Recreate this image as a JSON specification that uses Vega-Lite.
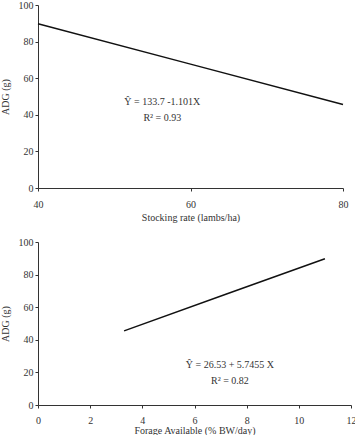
{
  "$schema": "https://vega.github.io/schema/vega-lite/v6.json",
  "padding": {"left": 0, "top": 0, "right": 0, "bottom": 0},
  "background": "white",
  "spacing": 15,
  "config": {
    "view": {"stroke": null},
    "font": "Liberation Serif",
    "axis": {
      "grid": false,
      "domainColor": "#333",
      "tickColor": "#333",
      "labelColor": "#333",
      "titleColor": "#333",
      "labelFont": "Liberation Serif",
      "titleFont": "Liberation Serif",
      "labelFontSize": 10,
      "titleFontSize": 10,
      "titleFontWeight": "normal",
      "tickSize": 3,
      "labelFlush": false
    },
    "text": {"font": "Liberation Serif", "fontSize": 10, "color": "#333"}
  },
  "datasets": {
    "top": [
      {"x": 40, "y": 89.7},
      {"x": 60, "y": 67.7},
      {"x": 80, "y": 45.6}
    ],
    "topText": [
      {"x": 56.3, "y": 47, "t": "Ŷ = 133.7 -1.101X"},
      {"x": 56.3, "y": 38.3, "t": "R² = 0.93"}
    ],
    "bottom": [
      {"x": 3.3, "y": 45.5},
      {"x": 7.2, "y": 67.9},
      {"x": 11, "y": 89.7}
    ],
    "bottomText": [
      {"x": 7.36, "y": 24.5, "t": "Ŷ = 26.53 + 5.7455 X"},
      {"x": 7.36, "y": 14.7, "t": "R² = 0.82"}
    ]
  },
  "vconcat": [
    {
      "width": 305,
      "height": 183,
      "encoding": {
        "x": {"field": "x", "type": "quantitative", "scale": {"domain": [40, 80], "nice": false},
              "axis": {"values": [40, 60, 80], "title": "Stocking rate (lambs/ha)", "labelPadding": 8, "titlePadding": 3, "labelOverlap": false}},
        "y": {"field": "y", "type": "quantitative", "scale": {"domain": [0, 100]},
              "axis": {"values": [0, 20, 40, 60, 80, 100], "title": "ADG (g)", "labelPadding": 2, "titlePadding": 8, "labelOverlap": false}}
      },
      "layer": [
        {
          "data": {"name": "top"},
          "mark": {"type": "line", "color": "#111", "strokeWidth": 1.5}
        },
        {
          "data": {"name": "topText"},
          "mark": {"type": "text", "align": "center", "baseline": "middle"},
          "encoding": {"text": {"field": "t"}}
        }
      ]
    },
    {
      "width": 313,
      "height": 163,
      "encoding": {
        "x": {"field": "x", "type": "quantitative", "scale": {"domain": [0, 12], "nice": false},
              "axis": {"values": [0, 2, 4, 6, 8, 10, 12], "title": "Forage Available (% BW/day)", "labelPadding": 7, "titlePadding": 0, "labelOverlap": false}},
        "y": {"field": "y", "type": "quantitative", "scale": {"domain": [0, 100]},
              "axis": {"values": [0, 20, 40, 60, 80, 100], "title": "ADG (g)", "labelPadding": 2, "titlePadding": 8, "labelOverlap": false}}
      },
      "layer": [
        {
          "data": {"name": "bottom"},
          "mark": {"type": "line", "color": "#111", "strokeWidth": 1.5}
        },
        {
          "data": {"name": "bottomText"},
          "mark": {"type": "text", "align": "center", "baseline": "middle"},
          "encoding": {"text": {"field": "t"}}
        }
      ]
    }
  ]
}
